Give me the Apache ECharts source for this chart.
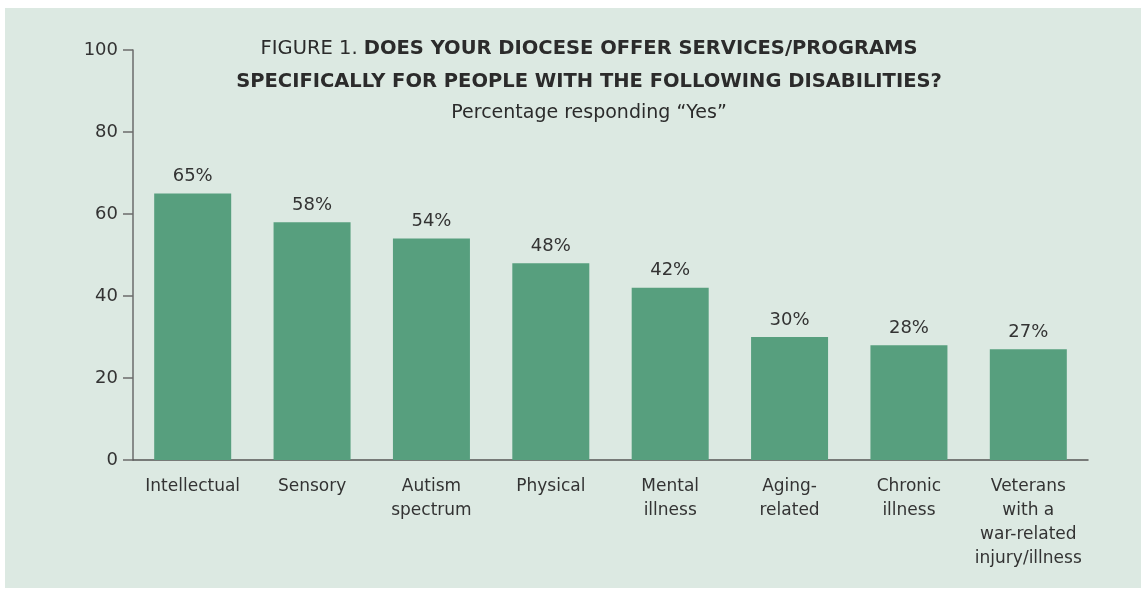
<!DOCTYPE html>
<html><head><meta charset="utf-8">
<script src="https://cdn.jsdelivr.net/npm/echarts@6/dist/echarts.min.js"></script>
<style>
html,body{margin:0;padding:0;background:#fff;}
#panel{position:absolute;left:5px;top:8px;width:1136px;height:580px;background:#dce9e2;}
#chart{position:absolute;left:0;top:0;width:1146px;height:591px;}
</style></head>
<body>
<div id="panel"></div>
<div id="chart"></div>
<script>
const categories = ['Intellectual', 'Sensory', 'Autism\nspectrum', 'Physical', 'Mental\nillness', 'Aging-\nrelated', 'Chronic\nillness', 'Veterans\nwith a\nwar-related\ninjury/illness'];
const values = [65, 58, 54, 48, 42, 30, 28, 27];
const yTicks = [0, 20, 40, 60, 80, 100];
const titleLine1Plain = 'FIGURE 1. ';
const titleLine1Bold = 'DOES YOUR DIOCESE OFFER SERVICES/PROGRAMS';
const titleLine2Bold = 'SPECIFICALLY FOR PEOPLE WITH THE FOLLOWING DISABILITIES?';
const subtitle = 'Percentage responding \u201cYes\u201d';

const FONT = 'DejaVu Sans';
const chart = echarts.init(document.getElementById('chart'));
chart.setOption({
  backgroundColor: 'transparent',
  textStyle: { fontFamily: FONT },
  title: {
    left: 584, top: 27, textAlign: 'center',
    text: '{a|' + titleLine1Plain + '}{b|' + titleLine1Bold + '}\n{b|' + titleLine2Bold + '}',
    subtext: subtitle,
    itemGap: 16,
    textStyle: {
      rich: {
        a: { fontFamily: FONT, fontSize: 19.5, fontWeight: 'normal', color: '#2b2b2b', lineHeight: 33 },
        b: { fontFamily: FONT, fontSize: 19.5, fontWeight: 'bold', color: '#2b2b2b', lineHeight: 33 }
      }
    },
    subtextStyle: { fontFamily: FONT, fontSize: 19, lineHeight: 24, color: '#2b2b2b' }
  },
  grid: { left: 133, right: 58, top: 50, bottom: 131, containLabel: false },
  xAxis: {
    type: 'category', data: categories,
    axisLine: { lineStyle: { color: '#555', width: 1.5 } },
    axisTick: { inside: true, length: 10, lineStyle: { color: '#555', width: 1.5 } },
    axisLabel: { color: '#333', fontSize: 17, lineHeight: 24, margin: 15, interval: 0, fontFamily: FONT }
  },
  yAxis: {
    type: 'value', min: 0, max: 100, interval: 20,
    splitLine: { show: false },
    axisLine: { show: true, lineStyle: { color: '#6b6b6b', width: 1.5 } },
    axisTick: { show: true, length: 10, lineStyle: { color: '#6b6b6b', width: 1.5 } },
    axisLabel: { color: '#333', fontSize: 18, margin: 15, fontFamily: FONT,
      formatter: v => yTicks.includes(v) ? String(v) : '' }
  },
  series: [{
    type: 'bar', data: values, barWidth: 77,
    itemStyle: { color: '#579f7e' },
    label: { show: true, position: 'top', distance: 8, formatter: '{c}%', color: '#333', fontSize: 18, fontFamily: FONT }
  }]
});
</script>
</body></html>
